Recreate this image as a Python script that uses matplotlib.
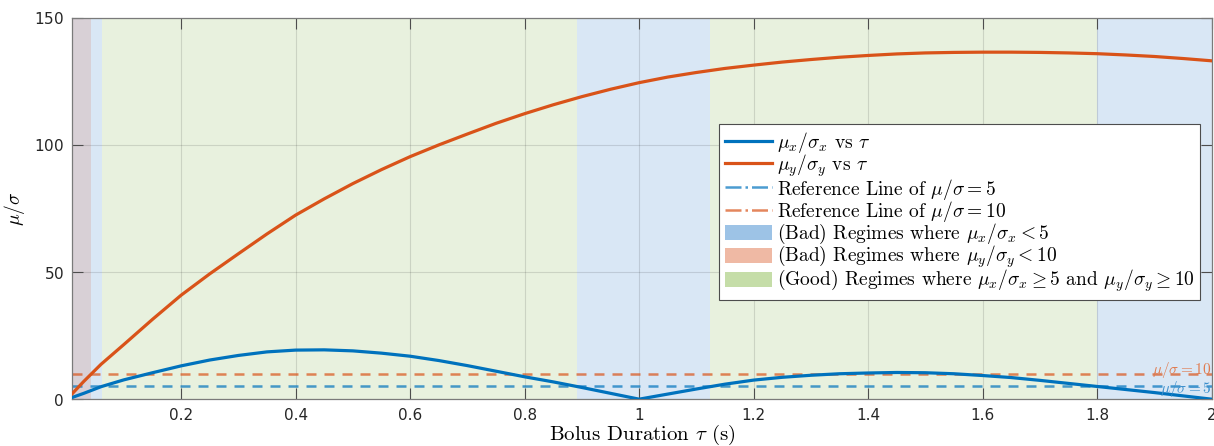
import numpy as np
import matplotlib
matplotlib.use("Agg")
import matplotlib.pyplot as plt
from matplotlib.lines import Line2D
from matplotlib.patches import Patch

plt.rcParams['mathtext.fontset'] = 'cm'
plt.rcParams['axes.formatter.use_mathtext'] = True

# bolus duration (s)
tau = [0.01, 0.03, 0.06, 0.1, 0.15, 0.2, 0.25, 0.3, 0.35, 0.4, 0.45, 0.5, 0.55, 0.6,
       0.65, 0.7, 0.75, 0.8, 0.85, 0.9, 0.95, 1.0, 1.05, 1.1, 1.15, 1.2, 1.25, 1.3,
       1.35, 1.4, 1.45, 1.5, 1.55, 1.6, 1.65, 1.7, 1.75, 1.8, 1.85, 1.9, 1.95, 2.0]
snr_x = [0.7, 2.3, 4.9, 7.6, 10.4, 13.1, 15.4, 17.2, 18.6, 19.3, 19.4, 19.0, 18.1, 16.9,
         15.2, 13.2, 11.0, 8.8, 6.8, 4.6, 2.3, 0.0, 2.0, 4.0, 5.9, 7.5, 8.6, 9.4,
         10.0, 10.3, 10.5, 10.4, 10.0, 9.3, 8.5, 7.4, 6.2, 5.0, 3.8, 2.6, 1.3, 0.0]
snr_y = [2.2, 7.0, 13.7, 21.5, 31.4, 40.9, 49.3, 57.2, 65.0, 72.4, 78.8, 84.8, 90.3, 95.4,
         100.0, 104.3, 108.5, 112.3, 115.8, 119.0, 121.9, 124.5, 126.7, 128.5, 130.1, 131.4, 132.6, 133.6,
         134.5, 135.2, 135.8, 136.2, 136.4, 136.5, 136.5, 136.4, 136.2, 135.9, 135.4, 134.8, 134.0, 133.1]

ref_x = 5
ref_y = 10

# regimes
both_bad = [(0.01, 0.042)]
bad_x = [(0.042, 0.061), (0.892, 1.124), (1.8, 2.0)]
good = [(0.061, 0.892), (1.124, 1.8)]

xticks = [0.2, 0.4, 0.6, 0.8, 1.0, 1.2, 1.4, 1.6, 1.8, 2.0]
xticklabels = ['0.2', '0.4', '0.6', '0.8', '1', '1.2', '1.4', '1.6', '1.8', '2']
yticks = [0, 50, 100, 150]

blue = '#0072BD'
orange = '#D95319'

fig = plt.figure(figsize=(12.14, 4.46), dpi=100)
ax = fig.add_axes([0.0596, 0.105, 0.9384, 0.855])

for a, b in both_bad:
    ax.axvspan(a, b, color='#D8D0D6', lw=0, zorder=0.5)
for a, b in bad_x:
    ax.axvspan(a, b, color='#D9E7F5', lw=0, zorder=0.5)
for a, b in good:
    ax.axvspan(a, b, color='#E8F1DE', lw=0, zorder=0.5)

ax.plot(tau, snr_x, color=blue, lw=2.3, zorder=3)
ax.plot(tau, snr_y, color=orange, lw=2.3, zorder=3)
ax.axhline(ref_x, color=blue, alpha=0.7, lw=1.8, ls=(0, (4, 3.2)), zorder=2)
ax.axhline(ref_y, color=orange, alpha=0.7, lw=1.8, ls=(0, (4, 3.2)), zorder=2)

ax.text(2.0, ref_y + 1.6, r'$\mu/\sigma=10$', color='#E07B4F', fontsize=11,
        ha='right', va='center')
ax.text(2.0, ref_x - 1.0, r'$\mu/\sigma=5$', color='#3C8FCC', fontsize=11,
        ha='right', va='center')

ax.set_xlim(0.01, 2.0)
ax.set_ylim(0, 150)
ax.set_xticks(xticks)
ax.set_xticklabels(xticklabels)
ax.set_yticks(yticks)
ax.tick_params(direction='in', length=8, width=0.8, colors='#4d4d4d',
               labelcolor='#262626', labelsize=11, top=True, right=True, pad=6)
ax.grid(True, color='#000000', alpha=0.12, lw=0.8)
for s in ax.spines.values():
    s.set_color('#7a7a7a')
    s.set_linewidth(0.9)

ax.set_xlabel(r'Bolus Duration $\tau$ (s)', family='cmr10', fontsize=15, labelpad=0)
ax.set_ylabel(r'$\mu/\sigma$', fontsize=14, labelpad=5)

handles = [
    Line2D([], [], color=blue, lw=2.3),
    Line2D([], [], color=orange, lw=2.3),
    Line2D([], [], color=blue, alpha=0.7, lw=1.8, ls='-.'),
    Line2D([], [], color=orange, alpha=0.7, lw=1.8, ls='-.'),
    Patch(facecolor='#9DC3E6', edgecolor='none'),
    Patch(facecolor='#EFB9A4', edgecolor='none'),
    Patch(facecolor='#C5DDA8', edgecolor='none'),
]
labels = [
    r'$\mu_x/\sigma_x$ vs $\tau$',
    r'$\mu_y/\sigma_y$ vs $\tau$',
    r'Reference Line of $\mu/\sigma=5$',
    r'Reference Line of $\mu/\sigma=10$',
    r'(Bad) Regimes where $\mu_x/\sigma_x<5$',
    r'(Bad) Regimes where $\mu_y/\sigma_y<10$',
    r'(Good) Regimes where $\mu_x/\sigma_x\geq5$ and $\mu_y/\sigma_y\geq10$',
]
leg = ax.legend(handles, labels, loc='upper right', bbox_to_anchor=(0.990, 0.722),
                prop={'family': 'cmr10', 'size': 14}, handlelength=2.4, handleheight=0.8,
                handletextpad=0.25, labelspacing=-0.12, borderpad=0.3, borderaxespad=0,
                fancybox=False, framealpha=1, edgecolor='#4d4d4d')
leg.get_frame().set_linewidth(0.8)

fig.savefig('out.png', dpi=100)
